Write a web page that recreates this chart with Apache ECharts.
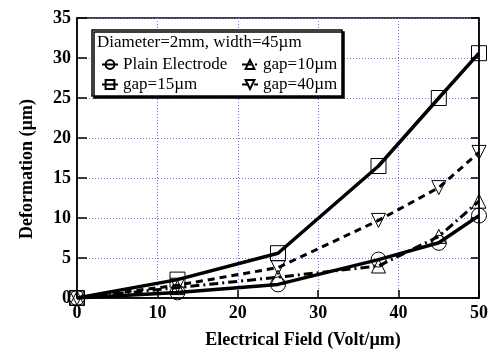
<!DOCTYPE html>
<html>
<head>
<meta charset="utf-8">
<script src="https://cdn.jsdelivr.net/npm/echarts@6/dist/echarts.min.js"></script>
<style>
  html, body { margin: 0; padding: 0; background: #fff; }
  #chart { width: 492px; height: 358px; }
</style>
</head>
<body>
<div id="chart"></div>
<script>
// data
const fieldValues = [0, 12.5, 25, 37.5, 45, 50];
const plainElectrode = [0, 0.7, 1.7, 4.8, 6.9, 10.3];
const gap15 = [0, 2.3, 5.6, 16.5, 25, 30.6];
const gap10 = [0, 1.3, 2.6, 4.0, 7.7, 12.1];
const gap40 = [0, 1.6, 3.8, 9.7, 13.8, 18.2];
const seriesNames = ['Plain Electrode', 'gap=15\u00b5m', 'gap=10\u00b5m', 'gap=40\u00b5m'];

const pairs = (ys) => fieldValues.map((x, i) => [x, ys[i]]);

const serifFont = '"Liberation Serif", "DejaVu Serif", serif';
const gridColor = '#6a78ff';

let myChart = echarts.init(document.getElementById('chart'));

const makeSeries = (name, ys, symbol, lineType, width, size) => {
    return {
        name: name,
        type: 'line',
        data: pairs(ys),
        symbol: symbol,
        symbolSize: size,
        showSymbol: true,
        lineStyle: { color: '#000', width: width, type: lineType },
        itemStyle: { color: 'rgba(0,0,0,0)', borderColor: '#000', borderWidth: 1 },
        z: 3
    };
};

const downTriangle = 'path://M0,0 L20,0 L10,18 Z';

let option = {
    backgroundColor: '#fff',
    animation: false,
    grid: {
        left: 77, right: 13, top: 18, bottom: 60,
        show: true,
        borderColor: '#000',
        borderWidth: 1.5,
        backgroundColor: 'transparent'
    },
    xAxis: [{
        type: 'value',
        min: 0, max: 50, interval: 10,
        axisLine: { show: true, lineStyle: { color: '#000', width: 1.5 } },
        axisTick: { show: true, inside: true, length: 8, lineStyle: { color: '#000', width: 1.5 } },
        axisLabel: { color: '#000', fontFamily: serifFont, fontWeight: 'bold', fontSize: 18, margin: 6 },
        splitLine: { show: true, lineStyle: { color: gridColor, width: 1, type: [1, 2] } }
    }],
    yAxis: [{
        type: 'value',
        min: 0, max: 35, interval: 5,
        axisLine: { show: true, lineStyle: { color: '#000', width: 1.5 } },
        axisTick: { show: true, inside: true, length: 10, lineStyle: { color: '#000', width: 1.5 } },
        axisLabel: { color: '#000', fontFamily: serifFont, fontWeight: 'bold', fontSize: 18, margin: 6 },
        splitLine: { show: true, lineStyle: { color: gridColor, width: 1, type: [1, 2] } }
    }, {
        type: 'value',
        position: 'right',
        min: 0, max: 35, interval: 5,
        axisLine: { show: true, lineStyle: { color: '#000', width: 1.5 } },
        axisTick: { show: true, inside: true, length: 8, lineStyle: { color: '#000', width: 1.5 } },
        axisLabel: { show: false },
        splitLine: { show: false }
    }],
    legend: [{
        data: [seriesNames[0], seriesNames[1]],
        orient: 'vertical',
        left: 96, top: 51,
        itemWidth: 16, itemHeight: 11,
        itemGap: 3,
        z: 10,
        textStyle: { color: '#000', fontFamily: serifFont, fontSize: 17 }
    }, {
        data: [seriesNames[2], seriesNames[3]],
        orient: 'vertical',
        left: 236, top: 51,
        itemWidth: 16, itemHeight: 11,
        itemGap: 3,
        z: 10,
        textStyle: { color: '#000', fontFamily: serifFont, fontSize: 17 }
    }],
    graphic: [{
        type: 'rect',
        z: 5,
        shape: { x: 92, y: 30, width: 250, height: 66 },
        style: { fill: '#fff', stroke: '#000', lineWidth: 1.5, shadowColor: '#000', shadowOffsetX: 2, shadowOffsetY: 2, shadowBlur: 0 }
    }, {
        type: 'text',
        z: 11,
        left: 97, top: 34,
        style: { text: 'Diameter=2mm, width=45\u00b5m', font: '17px ' + serifFont, fill: '#000' }
    }, {
        type: 'text',
        z: 11,
        x: 303, y: 340,
        style: { text: 'Electrical Field (Volt/\u00b5m)', font: 'bold 18px ' + serifFont, fill: '#000', align: 'center', verticalAlign: 'middle' }
    }, {
        type: 'text',
        z: 11,
        x: 27, y: 169,
        rotation: Math.PI / 2,
        style: { text: 'Deformation (\u00b5m)', font: 'bold 18px ' + serifFont, fill: '#000', align: 'center', verticalAlign: 'middle' }
    }],
    series: [
        makeSeries(seriesNames[0], plainElectrode, 'circle', 'solid', 3.5, 15),
        makeSeries(seriesNames[1], gap15, 'rect', 'solid', 3.5, 15),
        makeSeries(seriesNames[2], gap10, 'triangle', [9, 4, 2, 4], 3, 14),
        makeSeries(seriesNames[3], gap40, downTriangle, [7, 5], 3, 14)
    ]
};

myChart.setOption(option, true);
</script>
</body>
</html>
